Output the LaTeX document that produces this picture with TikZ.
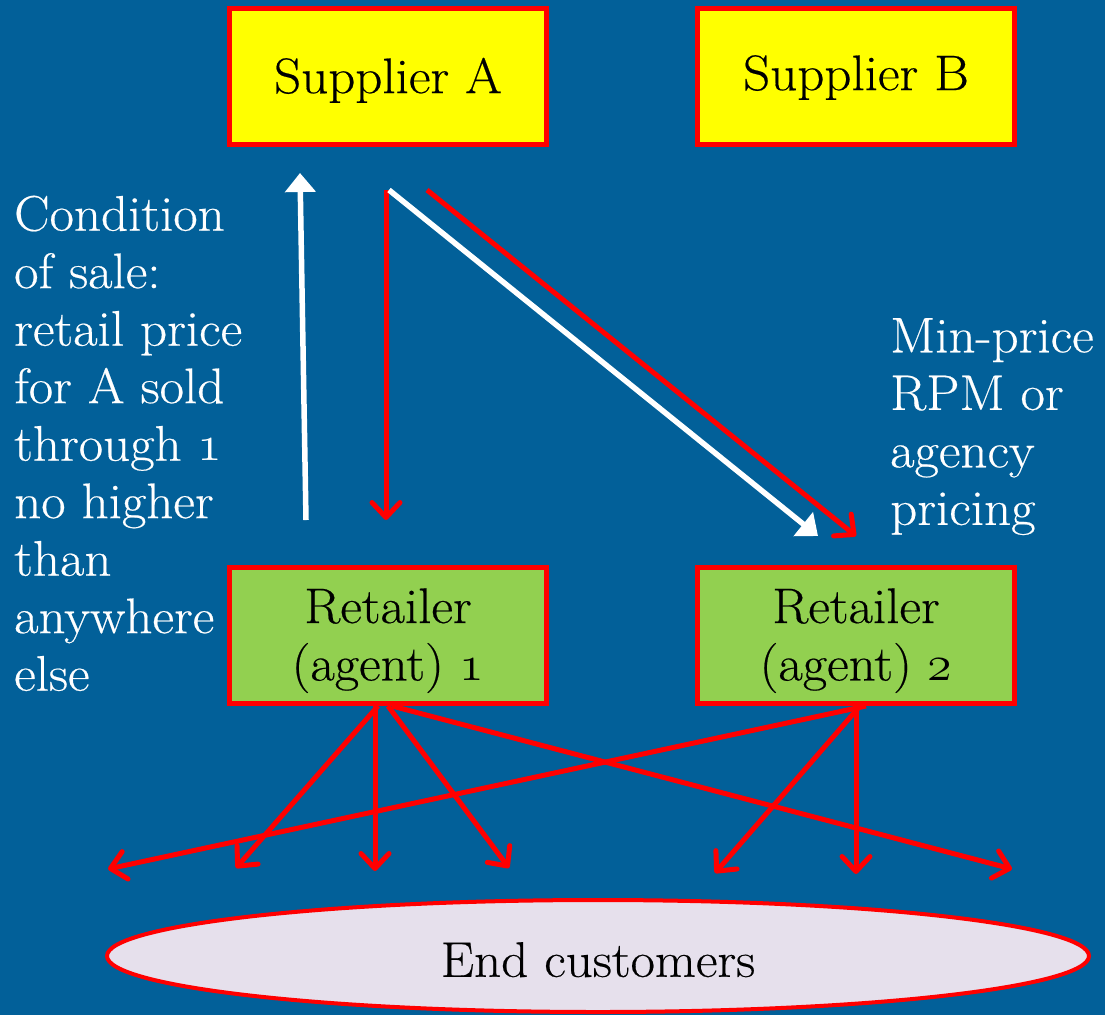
\RequirePackage{fix-cm}
\documentclass[tikz,border=0pt]{standalone}
\usepackage{fontspec}
\setmainfont{Latin Modern Roman}[FakeStretch=1.06,FakeBold=0.4]
\usetikzlibrary{arrows.meta,shapes.geometric}
\definecolor{bgblue}{RGB}{2,96,153}
\definecolor{boxyellow}{RGB}{255,255,0}
\definecolor{boxgreen}{RGB}{146,208,80}
\definecolor{ellfill}{RGB}{230,224,236}
\newcommand{\osn}[1]{{\usefont{OML}{cmm}{m}{it}#1}}
\begin{document}
\begin{tikzpicture}[x=1pt,y=-1pt,
  bigfont/.style={font=\fontsize{50}{57.5}\selectfont},
  boxnode/.style={bigfont, draw=red, line width=5pt, minimum width=317pt, minimum height=136pt, inner sep=0pt, align=center, text=black},
  supbox/.style={boxnode, fill=boxyellow},
  retbox/.style={boxnode, fill=boxgreen},
  sidetext/.style={bigfont, text=white, align=left, inner sep=0pt, anchor=north west},
  redarrow/.style={draw=red, line width=5pt, -{Straight Barb[length=15pt,width=28pt,round]}},
  whitearrow/.style={draw=white, line width=5.5pt, -{Triangle[length=19pt,width=30pt]}},
]
\fill[bgblue] (0,0) rectangle (1105,1015);
\useasboundingbox (0,0) rectangle (1105,1015);

% nodes
\node[supbox] (supA) at (388,76.5) {\rule{0pt}{43pt}Supplier A};
\node[supbox] (supB) at (856,76.5) {\rule{0pt}{37pt}Supplier B};
\node[retbox] (ret1) at (388,635.5) {\rule{0pt}{45pt}Retailer\\(agent) \osn{1}};
\node[retbox] (ret2) at (856,635.5) {\rule{0pt}{45pt}Retailer\\(agent) \osn{2}};
\node[ellipse, draw=red, line width=4pt, fill=ellfill, minimum width=982pt, minimum height=112pt, inner sep=0pt, bigfont, text=black] (cust) at (598,956) {\rule{0pt}{42pt}End customers};

\node[sidetext] (cond) at (14,195.5) {Condition\\of sale:\\retail price\\for A sold\\through \osn{1}\\no higher\\than\\anywhere\\else};
\node[sidetext] (minp) at (890,318) {Min-price\\RPM or\\agency\\pricing};

% coordinates for free ends
\coordinate (wUpS) at (306,520);
\coordinate (wUpE) at (300,173);
\coordinate (rDnS) at (386,190);
\coordinate (rDnE) at (386,520);
\coordinate (wDgS) at (389,190);
\coordinate (wDgE) at (818,536);
\coordinate (rDgS) at (427,190);
\coordinate (rDgE) at (856,536);

\coordinate (c1) at (108,869);
\coordinate (c2) at (236,868);
\coordinate (c3) at (375,871);
\coordinate (c4) at (509,868);
\coordinate (c5) at (715,873);
\coordinate (c6) at (856,874);
\coordinate (c7) at (1012,869);

% supplier-retailer arrows
\draw[whitearrow] (wUpS) -- (wUpE);
\draw[redarrow] (rDnS) -- (rDnE);
\draw[redarrow] (rDgS) -- (rDgE);
\draw[whitearrow] (wDgS) -- (wDgE);

% retailer-customer arrows
\draw[redarrow] ([xshift=-10pt]ret1.south) -- (c2);
\draw[redarrow] ([xshift=-13pt]ret1.south) -- (c3);
\draw[redarrow] (ret1.south) -- (c4);
\draw[redarrow] ([xshift=4pt]ret1.south) -- (c7);
\draw[redarrow] ([xshift=10pt]ret2.south) -- (c1);
\draw[redarrow] ([xshift=4pt]ret2.south) -- (c5);
\draw[redarrow] (ret2.south) -- (c6);
\end{tikzpicture}
\end{document}
